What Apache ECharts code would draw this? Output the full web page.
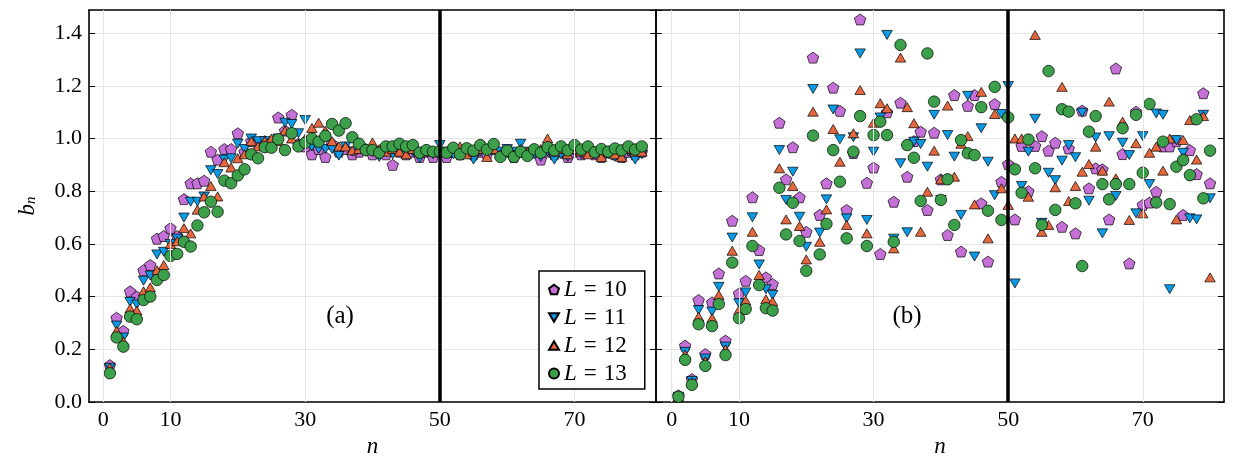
<!DOCTYPE html>
<html><head><meta charset="utf-8">
<script src="https://cdn.jsdelivr.net/npm/echarts@6/dist/echarts.min.js"></script>
<style>html,body{margin:0;padding:0;background:#fff}#c{width:1234px;height:467px}</style>
</head><body><div id="c"></div><script>
const nValues = [1,2,3,4,5,6,7,8,9,10,11,12,13,14,15,16,17,18,19,20,21,22,23,24,25,26,27,28,29,30,31,32,33,34,35,36,37,38,39,40,41,42,43,44,45,46,47,48,49,50,51,52,53,54,55,56,57,58,59,60,61,62,63,64,65,66,67,68,69,70,71,72,73,74,75,76,77,78,79,80];
const xTicks = [0,10,30,50,70];
const markN = 50;
const seriesNames = ['L = 10','L = 11','L = 12','L = 13'];

const leftL10 = [0.14,0.32,0.27,0.42,0.40,0.50,0.52,0.62,0.63,0.66, 0.63,0.77,0.83,0.83,0.84,0.95,0.92,0.96,0.96,1.02, 0.95,0.99,0.98,0.99,0.99,1.08,1.03,1.09,0.98,0.97, 0.94,0.96,0.93,0.98,0.95,0.96,0.94,0.95,0.96,0.94, 0.95,0.94,0.90,0.95,0.94,0.95,0.93,0.95,0.93,0.95, 0.93,0.95,0.94,0.95,0.94,0.95,0.94,0.96,0.94,0.95, 0.93,0.95,0.94,0.95,0.92,0.95,0.94,0.95,0.93,0.95, 0.94,0.95,0.94,0.93,0.95,0.94,0.93,0.95,0.94,0.95];
const leftL11 = [0.13,0.29,0.245,0.38,0.37,0.46,0.48,0.56,0.57,0.60, 0.62,0.70,0.76,0.76,0.78,0.88,0.865,0.92,0.925,0.98, 0.96,1.00,0.99,0.99,0.98,1.00,1.06,1.055,1.02,1.07, 0.97,0.96,0.96,0.96,0.935,0.97,0.95,0.96,0.95,0.95, 0.93,0.95,0.94,0.95,0.94,0.95,0.925,0.95,0.94,0.975, 0.95,0.94,0.95,0.94,0.92,0.95,0.95,0.96,0.95,0.96, 0.95,0.98,0.95,0.94,0.93,0.95,0.92,0.94,0.93,0.95, 0.94,0.95,0.94,0.95,0.94,0.93,0.94,0.95,0.92,0.94];
const leftL12 = [0.13,0.27,0.23,0.355,0.347,0.42,0.435,0.50,0.52,0.60, 0.61,0.66,0.64,0.73,0.78,0.82,0.78,0.91,0.89,0.925, 0.94,0.99,0.97,0.99,1.00,0.99,1.03,1.00,0.98,1.00, 1.04,1.06,1.03,0.99,0.97,0.97,0.955,0.96,0.96,0.985, 0.96,0.95,0.96,0.95,0.94,0.96,0.95,0.96,0.95,0.96, 0.95,0.96,0.97,0.94,0.95,0.96,0.93,0.96,0.94,0.95, 0.94,0.96,0.95,0.96,0.96,1.00,0.95,0.96,0.94,0.96, 0.95,0.94,0.95,0.93,0.95,0.94,0.93,0.96,0.95,0.95];
const leftL13 = [0.109,0.245,0.21,0.324,0.314,0.387,0.40,0.463,0.482,0.554, 0.562,0.608,0.59,0.67,0.72,0.76,0.722,0.84,0.83,0.86, 0.883,0.94,0.925,0.967,0.965,0.997,0.956,1.02,0.97,0.984, 1.0,0.988,1.01,1.055,1.03,1.058,1.005,0.98,0.956,0.956, 0.946,0.97,0.97,0.98,0.97,0.975,0.946,0.956,0.95,0.95, 0.946,0.965,0.94,0.963,0.954,0.975,0.958,0.979,0.93,0.954, 0.93,0.95,0.934,0.959,0.946,0.967,0.955,0.97,0.955,0.975, 0.958,0.97,0.948,0.96,0.95,0.962,0.955,0.97,0.958,0.97];

const rightL10 = [0.025,0.214,0.087,0.387,0.182,0.378,0.488,0.233,0.688,0.412, 0.46,0.777,0.577,0.473,0.448,1.06,0.845,0.967,0.777,0.646, 1.307,0.71,0.83,1.193,1.105,0.729,0.945,1.452,0.832,0.89, 0.562,1.10,0.76,1.136,0.855,0.99,1.026,0.729,1.022,0.845, 0.634,1.165,0.571,1.124,1.165,0.754,0.533,1.131,0.836,0.903, 0.693,0.972,0.80,0.972,1.009,0.954,0.984,0.665,0.962,0.64, 1.106,0.811,0.887,0.883,0.693,1.266,0.941,0.526,1.102,0.748, 0.757,0.798,0.97,0.97,0.99,0.71,0.956,0.865,1.172,0.83];
const rightL11 = [0.02,0.19,0.08,0.349,0.165,0.343,0.437,0.21,0.624,0.375, 0.416,0.701,0.522,0.428,0.406,0.956,0.767,0.874,0.703,0.589, 1.188,0.643,0.769,1.11,0.997,0.697,1.005,1.323,0.691,0.95, 1.08,1.393,0.62,0.906,0.644,0.988,0.979,0.893,1.09,0.767, 1.013,0.931,0.71,1.162,0.552,1.039,0.912,0.785,1.093,1.199, 0.45,0.82,0.95,1.075,0.68,0.87,0.842,0.916,0.975,0.929, 1.098,0.764,1.004,0.64,1.009,0.782,0.984,0.937,0.716,1.009, 0.827,1.095,1.09,0.428,0.994,0.946,0.697,0.693,1.09,0.773];
const rightL12 = [0.02,0.18,0.075,0.324,0.155,0.318,0.406,0.20,0.574,0.349, 0.385,0.646,0.482,0.39,0.381,0.887,0.693,0.82,0.668,0.541, 1.102,0.608,0.731,1.036,0.912,0.672,1.02,1.184,0.64,1.06, 1.134,1.115,0.583,1.307,1.119,1.058,0.646,0.798,0.954,0.845, 1.125,0.855,0.98,1.009,0.75,1.177,0.621,1.093,0.811,0.748, 1.0,1.0,0.779,1.393,0.646,0.672,0.815,1.196,0.763,0.82, 0.874,0.903,0.969,0.878,1.14,0.849,1.064,0.691,0.982,0.716, 0.946,0.969,0.878,1.0,0.693,0.994,1.07,0.92,1.085,0.473];
const rightL13 = [0.02,0.16,0.065,0.295,0.137,0.288,0.372,0.178,0.529,0.318, 0.353,0.592,0.444,0.356,0.347,0.813,0.636,0.756,0.611,0.498, 1.011,0.56,0.676,0.956,0.836,0.621,0.95,1.085,0.592,1.013, 1.064,1.013,0.608,1.355,0.975,0.927,0.763,1.323,1.14,0.767, 0.845,0.672,0.994,0.944,0.937,1.119,0.726,1.196,0.691,1.08, 0.883,0.794,0.996,0.887,0.672,1.256,0.729,1.111,1.102,0.754, 0.516,1.026,1.085,0.827,0.769,0.827,1.039,0.827,1.09,0.87, 1.131,0.757,0.988,0.751,0.893,0.918,0.861,1.073,0.773,0.954];

const FONT = 'Liberation Serif';
const colors = ['#c470d6', '#0a9ae6', '#e4673e', '#3ca04b'];
const symbols = [
  'path://M50,0 L97.55,34.55 L79.39,90.45 L20.61,90.45 L2.45,34.55 Z',
  'path://M0,0 L100,0 L50,86.6 Z',
  'path://M50,0 L100,86.6 L0,86.6 Z',
  'circle'
];
const sizes = [[11.5,11], [10.5,9], [10.5,9], 11.5];

const chart = echarts.init(document.getElementById('c'), null, {renderer: 'canvas'});

function xAxisCfg(gi, pos, min, max, labels) {
  return {
    type: 'value', gridIndex: gi, position: pos, min: min, max: max,
    axisLine: {show: true, onZero: false, lineStyle: {color: '#000', width: 1.6}},
    axisTick: {show: true, inside: true, length: 6, customValues: xTicks, lineStyle: {color: '#000', width: 1}},
    axisLabel: {show: labels, customValues: xTicks, margin: 7, color: '#000', fontFamily: FONT, fontSize: 22},
    splitLine: {show: false},
    name: labels ? 'n' : '', nameLocation: 'middle', nameGap: 27,
    nameTextStyle: {fontFamily: FONT, fontStyle: 'italic', fontSize: 23, color: '#000'}
  };
}
function yAxisCfg(gi, pos, labels, split) {
  return {
    type: 'value', gridIndex: gi, position: pos, min: 0, max: 1.4877, interval: 0.2,
    axisLine: {show: true, onZero: false, lineStyle: {color: '#000', width: 1.6}},
    axisTick: {show: true, inside: true, length: 6, lineStyle: {color: '#000', width: 1}},
    axisLabel: {show: labels, showMaxLabel: false, margin: 7, color: '#000', fontFamily: FONT, fontSize: 22,
      formatter: v => v.toFixed(1)},
    splitLine: {show: split, lineStyle: {color: '#e6e6e6', width: 1}},
    name: (labels ? '{b|b}{s|n}' : ''), nameLocation: 'middle', nameGap: 50, nameRotate: 90,
    nameTextStyle: {color: '#000', rich: {
      b: {fontFamily: FONT, fontStyle: 'italic', fontSize: 23, color: '#000'},
      s: {fontFamily: FONT, fontStyle: 'italic', fontSize: 15, color: '#000', verticalAlign: 'bottom', padding: [8, 0, 0, 0]}
    }}
  };
}

const panels = [
  {data: [leftL10, leftL11, leftL12, leftL13], xi: 0, yi: 0},
  {data: [rightL10, rightL11, rightL12, rightL13], xi: 2, yi: 2}
];

const series = [];
panels.forEach(p => {
  series.push({
    type: 'scatter', name: '_grid' + p.xi, xAxisIndex: p.xi, yAxisIndex: p.yi, data: [], z: 1, silent: true,
    markLine: {silent: true, symbol: ['none', 'none'], label: {show: false}, animation: false,
      lineStyle: {color: '#e6e6e6', width: 1, type: 'solid'},
      data: xTicks.map(v => ({xAxis: v}))}
  });
  p.data.forEach((arr, k) => {
    series.push({
      type: 'scatter', name: seriesNames[k], xAxisIndex: p.xi, yAxisIndex: p.yi,
      data: nValues.map((n, i) => [n, arr[i]]),
      symbol: symbols[k], symbolSize: sizes[k],
      itemStyle: {color: colors[k], borderColor: '#000', borderWidth: 0.7, opacity: 1},
      emphasis: {disabled: true}, silent: true, z: 2
    });
  });
  series.push({
    type: 'scatter', name: '_mark' + p.xi, xAxisIndex: p.xi, yAxisIndex: p.yi, data: [], z: 10, silent: true,
    markLine: {silent: true, symbol: ['none', 'none'], label: {show: false}, animation: false,
      lineStyle: {color: '#000', width: 3.5, type: 'solid'},
      data: [{xAxis: markN}]}
  });
});

chart.setOption({
  animation: false,
  backgroundColor: '#fff',
  grid: [
    {left: 89, top: 10, width: 567, height: 392},
    {left: 656, top: 10, width: 568, height: 392}
  ],
  xAxis: [
    xAxisCfg(0, 'bottom', -2.1, 82.1, true),
    xAxisCfg(0, 'top', -2.1, 82.1, false),
    xAxisCfg(1, 'bottom', -2.33, 82.07, true),
    xAxisCfg(1, 'top', -2.33, 82.07, false)
  ],
  yAxis: [
    yAxisCfg(0, 'left', true, true),
    yAxisCfg(0, 'right', false, false),
    yAxisCfg(1, 'left', false, true),
    yAxisCfg(1, 'right', false, false)
  ],
  legend: {
    data: seriesNames, orient: 'vertical', left: 539, top: 271,
    backgroundColor: '#fff', borderColor: '#000', borderWidth: 1.5, borderRadius: 0,
    padding: [7, 18, 4, 9], itemWidth: 10, itemHeight: 10, itemGap: 5, selectedMode: false, z: 20,
    formatter: name => '{i|L}{e|=}{t|' + name.split('= ')[1] + '}',
    textStyle: {color: '#000', fontFamily: FONT, fontSize: 23, rich: {
      i: {fontFamily: FONT, fontStyle: 'italic', fontSize: 23, color: '#000'},
      e: {fontFamily: FONT, fontSize: 23, color: '#000', padding: [0, 7, 0, 7]},
      t: {fontFamily: FONT, fontSize: 23, color: '#000'}
    }}
  },
  graphic: [
    {type: 'text', x: 340, y: 316, z: 20, style: {text: '(a)', fontFamily: FONT, fontSize: 25, fill: '#000', align: 'center', verticalAlign: 'middle'}},
    {type: 'text', x: 907, y: 316, z: 20, style: {text: '(b)', fontFamily: FONT, fontSize: 25, fill: '#000', align: 'center', verticalAlign: 'middle'}}
  ],
  series: series
});
</script></body></html>
